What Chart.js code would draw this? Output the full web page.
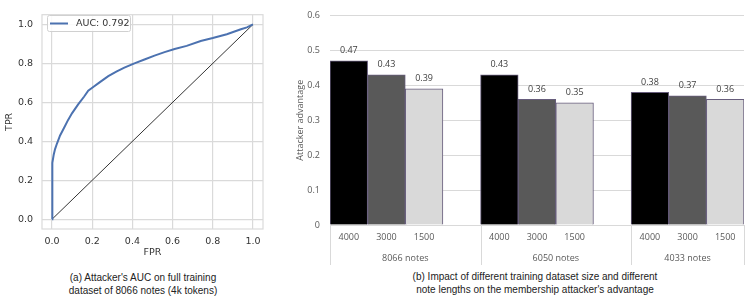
<!DOCTYPE html>
<html><head><meta charset="utf-8">
<script src="https://cdn.jsdelivr.net/npm/chart.js@4"></script>
<style>
body{margin:0;background:#fff;width:750px;height:302px;overflow:hidden;position:relative}
canvas{position:absolute;top:0}
#c1{left:0}
#c2{left:280px}
.cap{position:absolute;font-family:"Liberation Sans",Arial,sans-serif;font-size:10px;color:#222;text-align:center;line-height:13px;white-space:nowrap}
</style></head><body>
<canvas id="c1" width="280" height="262"></canvas>
<canvas id="c2" width="470" height="268"></canvas>
<div class="cap" style="left:40px;top:271px;width:206px">(a) Attacker's AUC on full training<br>dataset of 8066 notes (4k tokens)</div>
<div class="cap" style="left:385px;top:271px;width:300px;line-height:12.5px">(b) Impact of different training dataset size and different<br>note lengths on the membership attacker's advantage</div>
<script>
// ---------- Data: ROC curve (panel a) ----------
const rocLabel = 'AUC: 0.792';
const fpr = [0, 0.0, 0.003, 0.008, 0.015, 0.025, 0.04, 0.06, 0.08, 0.1, 0.13, 0.16, 0.18, 0.2, 0.24, 0.28, 0.32, 0.36, 0.41, 0.46, 0.51, 0.56, 0.61, 0.67, 0.74, 0.8, 0.87, 0.94, 0.97, 1.0];
const tpr = [0, 0.2, 0.29, 0.33, 0.36, 0.39, 0.43, 0.47, 0.51, 0.545, 0.59, 0.63, 0.66, 0.675, 0.705, 0.735, 0.758, 0.778, 0.80, 0.82, 0.84, 0.858, 0.874, 0.89, 0.915, 0.93, 0.95, 0.975, 0.985, 1.0];
const rocTicks = [0, 0.2, 0.4, 0.6, 0.8, 1.0];

// ---------- Data: attacker advantage (panel b) ----------
const noteGroups = ['8066 notes', '6050 notes', '4033 notes'];
const noteLengths = ['4000', '3000', '1500'];
const adv4000 = [0.47, 0.43, 0.38];
const adv3000 = [0.43, 0.36, 0.37];
const adv1500 = [0.39, 0.35, 0.36];
const advTicks = [0, 0.1, 0.2, 0.3, 0.4, 0.5, 0.6];

// ---------- Panel a ----------
const rocFont = {family: '"DejaVu Sans", sans-serif', size: 9.5};
const gridCol = '#dadada';
const rocDecor = {
  id: 'rocDecor',
  beforeDatasetsDraw(chart) {
    const {ctx, chartArea: a} = chart;
    ctx.save();
    ctx.strokeStyle = gridCol; ctx.lineWidth = 1.2;
    ctx.strokeRect(a.left, a.top, a.right - a.left, a.bottom - a.top);
    ctx.restore();
  },
  afterDraw(chart) {
    const {ctx, chartArea: a} = chart;
    ctx.save();
    ctx.fillStyle = '#333';
    ctx.font = '9.5px "DejaVu Sans", sans-serif';
    ctx.textAlign = 'center'; ctx.textBaseline = 'middle';
    ctx.fillText('FPR', (a.left + a.right) / 2, 253);
    ctx.translate(10, (a.top + a.bottom) / 2);
    ctx.rotate(-Math.PI / 2);
    ctx.fillText('TPR', 0, 0);
    ctx.restore();
    // legend
    ctx.save();
    const lx = 47, ly = 15, lw = 83, lh = 16;
    ctx.fillStyle = 'rgba(255,255,255,0.85)';
    ctx.strokeStyle = '#d0d0d0'; ctx.lineWidth = 1;
    ctx.beginPath(); ctx.roundRect(lx + 0.5, ly + 0.5, lw, lh, 2); ctx.fill(); ctx.stroke();
    ctx.strokeStyle = '#4c72b0'; ctx.lineWidth = 2;
    ctx.beginPath(); ctx.moveTo(50, ly + lh / 2 + 0.5); ctx.lineTo(68, ly + lh / 2 + 0.5); ctx.stroke();
    ctx.fillStyle = '#333'; ctx.font = '9.5px "DejaVu Sans", sans-serif';
    ctx.textBaseline = 'middle'; ctx.textAlign = 'left';
    ctx.fillText(chart.data.datasets[0].label, 76, ly + lh / 2 + 0.5);
    ctx.restore();
  }
};
new Chart(document.getElementById('c1'), {
  type: 'scatter',
  data: {datasets: [
    {label: rocLabel, data: fpr.map((x, i) => ({x, y: tpr[i]})), showLine: true, borderColor: '#4c72b0', borderWidth: 2, pointRadius: 0, tension: 0},
    {label: 'chance', data: [{x: 0, y: 0}, {x: 1, y: 1}], showLine: true, borderColor: '#333', borderWidth: 1, pointRadius: 0}
  ]},
  options: {
    responsive: false, animation: false,
    layout: {padding: {top: 10, right: 17, left: 0, bottom: 0}},
    plugins: {legend: {display: false}, tooltip: {enabled: false}},
    scales: {
      x: {type: 'linear', min: -0.05, max: 1.05,
        afterBuildTicks: s => { s.ticks = rocTicks.map(v => ({value: v})); },
        afterFit: s => { s.height = 33; },
        grid: {color: gridCol, lineWidth: 1.2, drawTicks: false}, border: {display: false},
        ticks: {padding: 7, color: '#333', font: rocFont, callback: v => v.toFixed(1)}},
      y: {type: 'linear', min: -0.05, max: 1.05,
        afterBuildTicks: s => { s.ticks = rocTicks.map(v => ({value: v})); },
        afterFit: s => { s.width = 42; },
        grid: {color: gridCol, lineWidth: 1.2, drawTicks: false}, border: {display: false},
        ticks: {padding: 9, color: '#333', font: rocFont, callback: v => v.toFixed(1)}}
    }
  },
  plugins: [rocDecor]
});

// ---------- Panel b ----------
const slotsPer = noteLengths.length + 1;
const catLabels = [];
noteGroups.forEach((g, gi) => {
  noteLengths.forEach(l => catLabels.push(l));
  if (gi < noteGroups.length - 1) catLabels.push('');
});
function spread(vals, li) {
  const arr = new Array(catLabels.length).fill(null);
  vals.forEach((v, gi) => { arr[gi * slotsPer + li] = v; });
  return arr;
}
const barFont = {family: '"Open Sans", "Liberation Sans", sans-serif', size: 9};
const barDecor = {
  id: 'barDecor',
  afterDatasetsDraw(chart) {
    const {ctx} = chart;
    ctx.save();
    ctx.fillStyle = '#404040';
    ctx.font = '9px "Open Sans", "Liberation Sans", sans-serif';
    ctx.textAlign = 'center'; ctx.textBaseline = 'middle';
    chart.data.datasets.forEach((ds, di) => {
      chart.getDatasetMeta(di).data.forEach((el, i) => {
        const v = ds.data[i];
        if (v == null) return;
        ctx.fillText(v.toFixed(2), el.x, el.y - 10);
      });
    });
    ctx.restore();
  },
  afterDraw(chart) {
    const {ctx, chartArea: a, scales: {x}} = chart;
    const half = (x.getPixelForValue(1) - x.getPixelForValue(0)) / 2;
    ctx.save();
    ctx.strokeStyle = '#d9d9d9'; ctx.lineWidth = 1;
    ctx.fillStyle = '#595959';
    ctx.font = '9px "Open Sans", "Liberation Sans", sans-serif';
    ctx.textAlign = 'center'; ctx.textBaseline = 'middle';
    const edges = [];
    for (let gi = 0; gi < noteGroups.length; gi++) {
      const start = gi * slotsPer;
      const last = Math.min(start + slotsPer - 1, catLabels.length - 1);
      const l = x.getPixelForValue(start) - half;
      const r = x.getPixelForValue(last) + half;
      edges.push(l);
      if (gi === noteGroups.length - 1) edges.push(r);
      ctx.fillText(noteGroups[gi], (l + r) / 2, a.bottom + 33);
    }
    edges.forEach(e => {
      const xx = Math.round(e) + 0.5;
      ctx.beginPath(); ctx.moveTo(xx, a.bottom); ctx.lineTo(xx, a.bottom + 40); ctx.stroke();
    });
    ctx.translate(20, (a.top + a.bottom) / 2);
    ctx.rotate(-Math.PI / 2);
    ctx.fillText('Attacker advantage', 0, 0);
    ctx.restore();
  }
};
const barBorder = '#675d7c';
new Chart(document.getElementById('c2'), {
  type: 'bar',
  data: {labels: catLabels, datasets: [
    {label: noteLengths[0], data: spread(adv4000, 0), backgroundColor: '#000000', borderColor: barBorder, borderWidth: 1},
    {label: noteLengths[1], data: spread(adv3000, 1), backgroundColor: '#595959', borderColor: barBorder, borderWidth: 1},
    {label: noteLengths[2], data: spread(adv1500, 2), backgroundColor: '#d9d9d9', borderColor: barBorder, borderWidth: 1}
  ]},
  options: {
    responsive: false, animation: false,
    grouped: false, barPercentage: 1, categoryPercentage: 1,
    layout: {padding: {top: 9, right: 6, left: 0, bottom: 0}},
    plugins: {legend: {display: false}, tooltip: {enabled: false}},
    scales: {
      x: {afterFit: s => { s.height = 43; },
        grid: {display: false, drawTicks: false}, border: {display: true, color: '#d9d9d9'},
        ticks: {padding: 7, color: '#595959', font: barFont, autoSkip: false, maxRotation: 0}},
      y: {min: 0, max: 0.6,
        afterBuildTicks: s => { s.ticks = advTicks.map(v => ({value: v})); },
        afterFit: s => { s.width = 50; },
        grid: {color: '#d9d9d9', drawTicks: false}, border: {display: false},
        ticks: {padding: 10, color: '#595959', font: barFont, callback: v => String(Number(v.toFixed(1)))}}
    }
  },
  plugins: [barDecor]
});
</script>
</body></html>
